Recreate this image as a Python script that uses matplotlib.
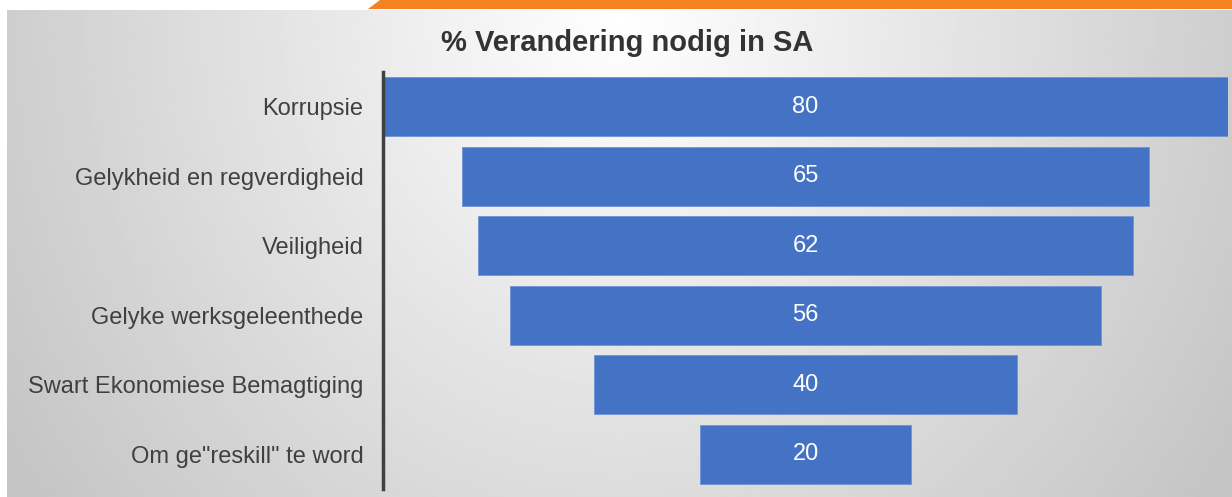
import numpy as np
import matplotlib
matplotlib.use('Agg')
import matplotlib.pyplot as plt
from matplotlib.patches import Polygon

categories = ['Korrupsie', 'Gelykheid en regverdigheid', 'Veiligheid',
              'Gelyke werksgeleenthede', 'Swart Ekonomiese Bemagtiging',
              'Om ge"reskill" te word']
values = [80, 65, 62, 56, 40, 20]
title = '% Verandering nodig in SA'

W, H = 1232, 497
plt.rcParams['font.family'] = ['Liberation Sans', 'DejaVu Sans']

fig = plt.figure(figsize=(W / 100, H / 100), dpi=100)
fig.patch.set_facecolor('white')

# grey radial background
bg = fig.add_axes([7 / W, 0, 1 - 7 / W, (H - 10) / H])
bg.set_axis_off()
xx, yy = np.meshgrid(np.linspace(-1, 1, 400), np.linspace(0, 1, 200))
r = np.sqrt((xx / 1.0) ** 2 + ((1 - yy) / 1.4) ** 2)
shade = 1.0 - 0.23 * np.clip(r, 0, 1.2) / 1.2
bg.imshow(shade, cmap='gray', vmin=0, vmax=1, aspect='auto',
          extent=[0, 1, 0, 1], origin='lower')

# orange strip on top
strip = Polygon([(368 / W, (H - 9) / H), (380 / W, 1.0), (1.0, 1.0),
                 (1.0, (H - 9) / H)], closed=True, transform=fig.transFigure,
                facecolor='#F58220', edgecolor='none')
fig.patches.append(strip)

ax = fig.add_axes([383 / W, (H - 489) / H, (1228 - 383) / W, (489 - 72) / H])
ax.patch.set_alpha(0)
y = np.arange(len(categories))
ax.barh(y, values, left=[-v / 2 for v in values], height=0.85,
        color='#4472C4', edgecolor='#6f93d6', linewidth=0.6)
for yi, v in zip(y, values):
    ax.text(0, yi, str(v), ha='center', va='center', color='white', fontsize=17)

ax.set_xlim(-40, 40)
ax.set_ylim(len(categories) - 0.5, -0.5)
ax.set_yticks(y)
ax.set_yticklabels(categories, fontsize=17, color='#404040')
ax.tick_params(axis='y', length=0, pad=14)
ax.set_xticks([])
for s in ['top', 'right', 'bottom']:
    ax.spines[s].set_visible(False)
ax.spines['left'].set_linewidth(2.5)
ax.spines['left'].set_color('#404040')

fig.text(627 / W, 1 - 43 / H, title, ha='center', va='center',
         fontsize=21, fontweight='bold', color='#333333')

fig.savefig('out.png', dpi=100)
